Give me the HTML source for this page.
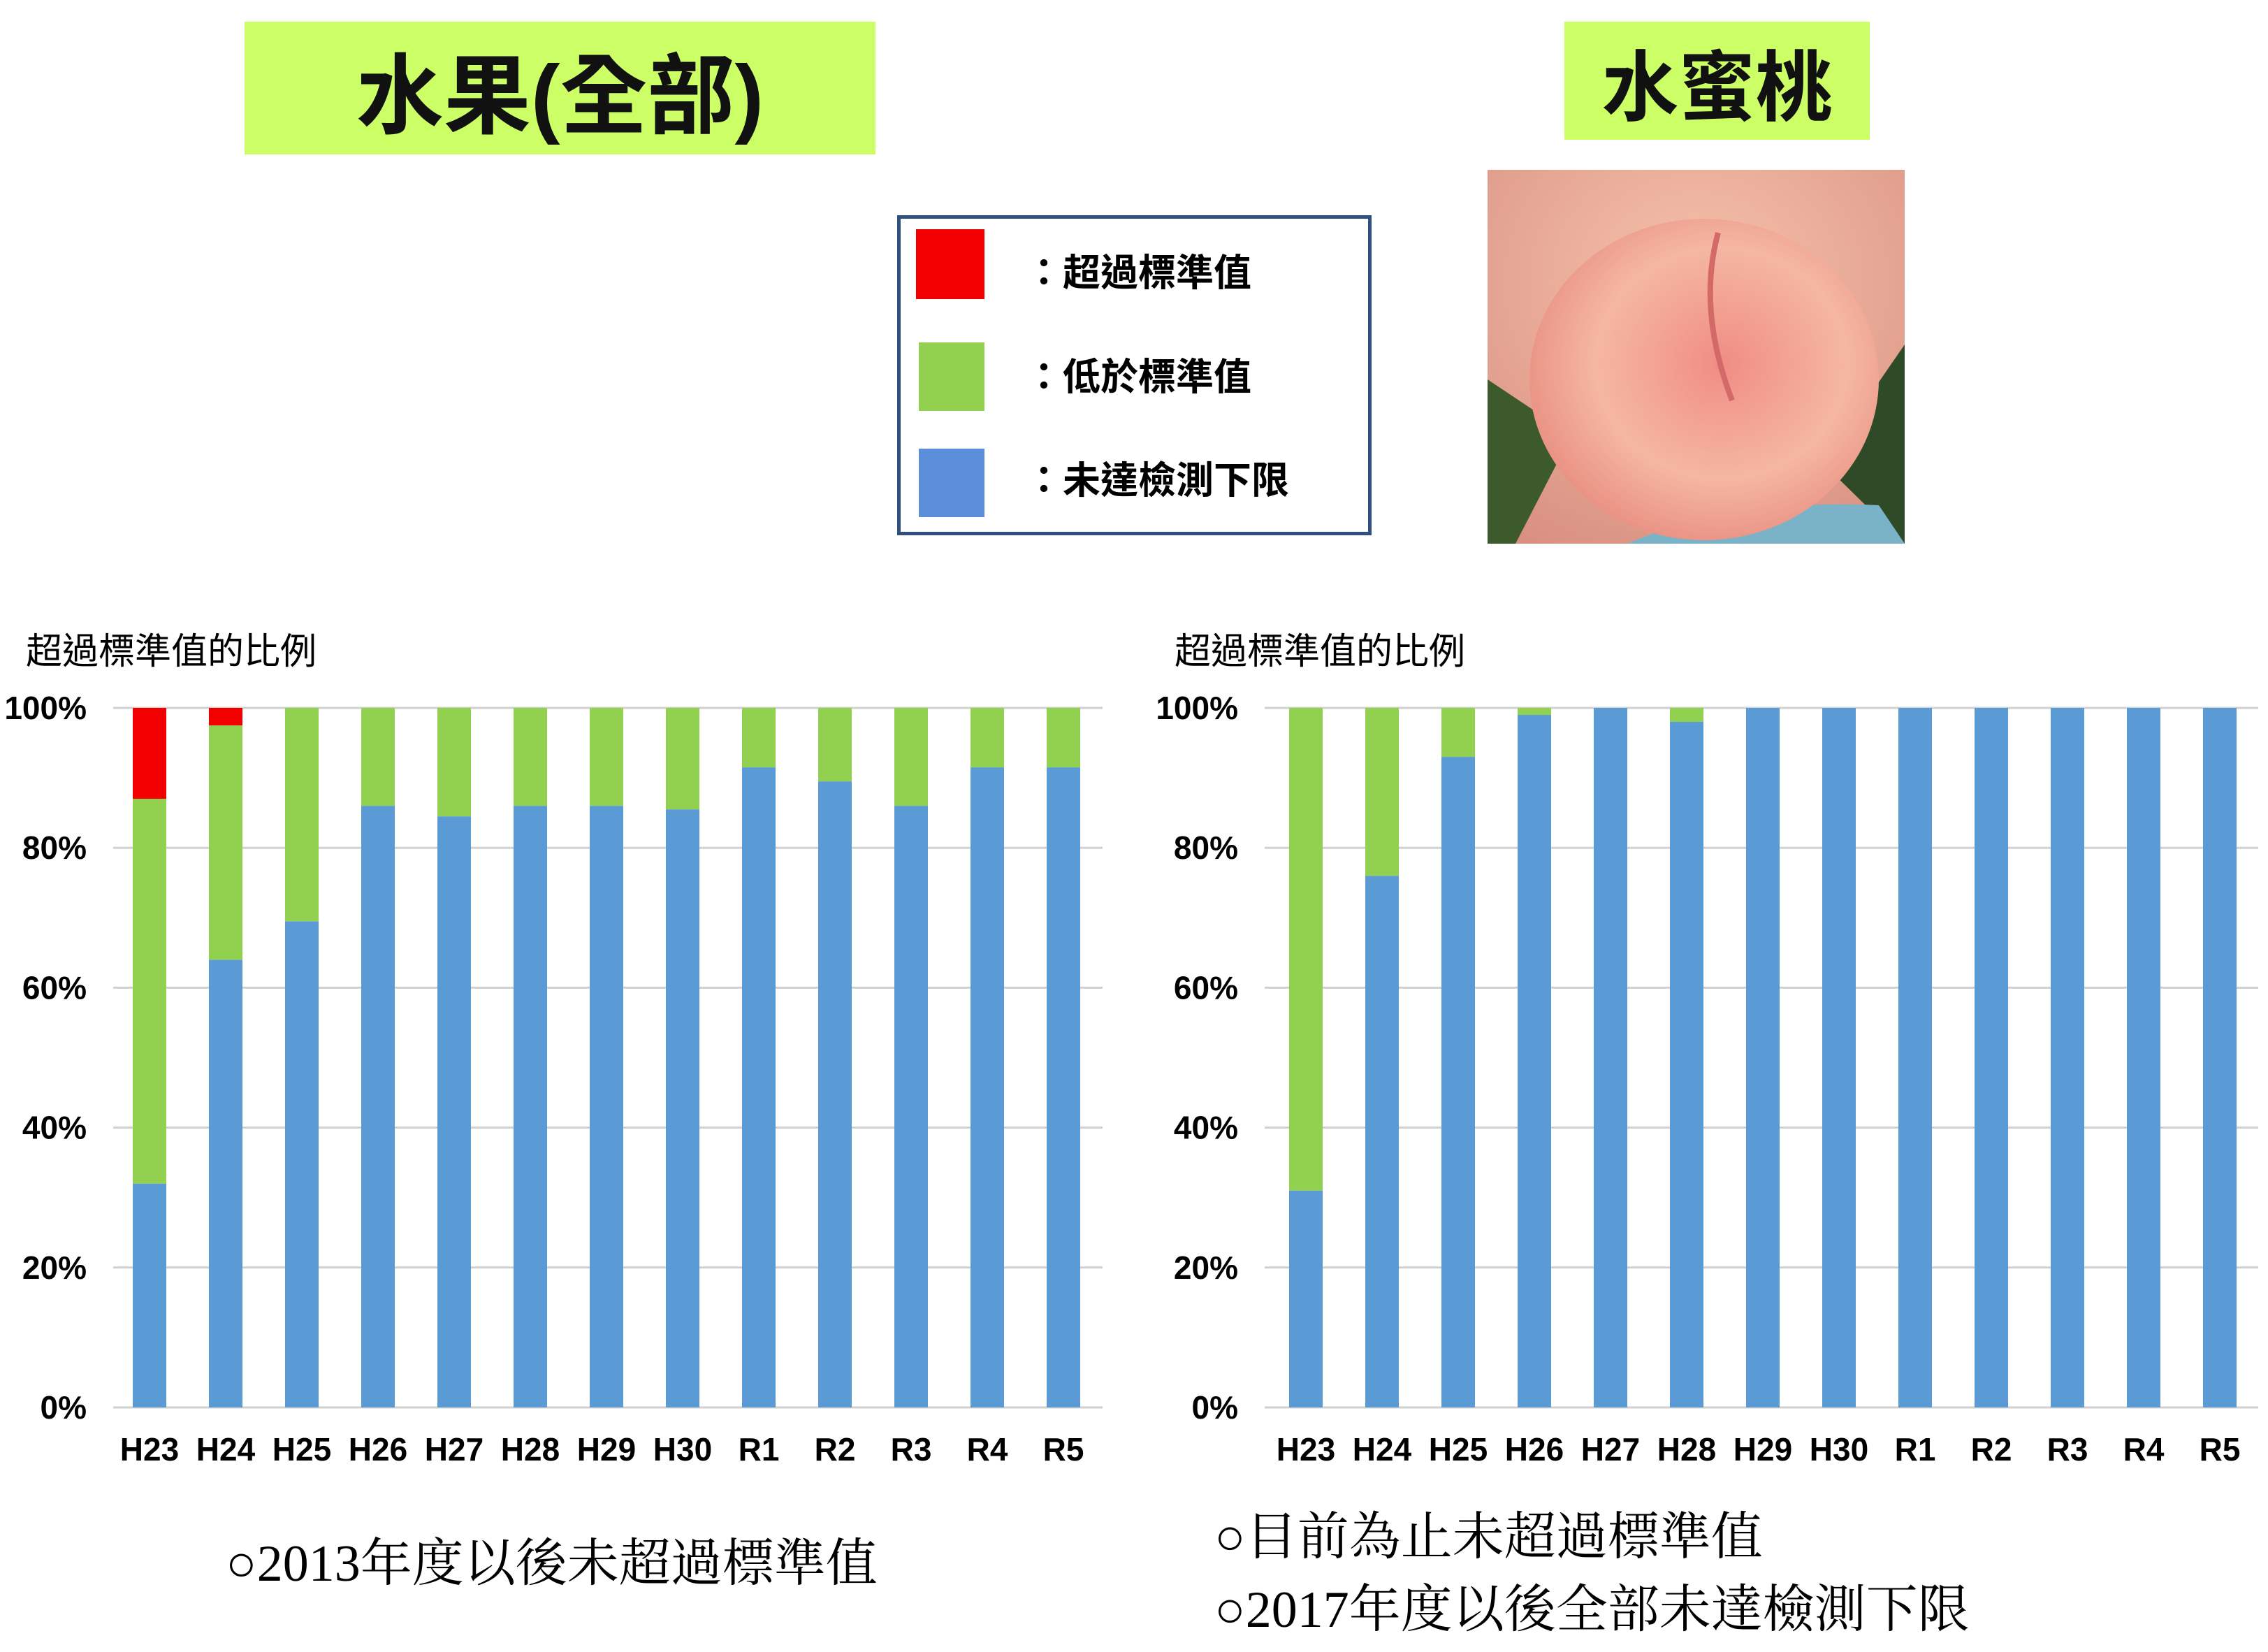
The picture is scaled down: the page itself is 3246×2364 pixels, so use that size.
<!DOCTYPE html>
<html><head><meta charset="utf-8"><style>
body{margin:0;width:3246px;height:2364px;background:#fff;overflow:hidden;position:relative;font-family:"Liberation Sans","Noto Sans CJK TC",sans-serif}
.abs{position:absolute}
</style></head><body>
<div class="abs" style="left:350px;top:31px;width:903px;height:190px;background:#ccff66;display:flex;align-items:center;justify-content:center;font-size:125px;font-weight:bold;color:#111">水果(全部)</div>
<div class="abs" style="left:2239px;top:31px;width:437px;height:169px;background:#ccff66;display:flex;align-items:center;justify-content:center;font-size:110px;font-weight:bold;color:#111">水蜜桃</div>
<div class="abs" style="left:1284px;top:308px;width:679px;height:458px;border:5px solid #2f4f7f;box-sizing:border-box">
 <div class="abs" style="left:22px;top:15px;width:98px;height:100px;background:#f20000"></div>
 <div class="abs" style="left:26px;top:177px;width:94px;height:98px;background:#92d050"></div>
 <div class="abs" style="left:26px;top:329px;width:94px;height:98px;background:#5b8fd9"></div>
 <div class="abs" style="left:178px;top:33px;font-size:54px;font-weight:bold">：超過標準值</div>
 <div class="abs" style="left:178px;top:182px;font-size:54px;font-weight:bold">：低於標準值</div>
 <div class="abs" style="left:178px;top:330px;font-size:54px;font-weight:bold">：未達檢測下限</div>
</div>
<svg class="abs" style="left:2129px;top:243px" width="597" height="535">
 <defs>
  <radialGradient id="pg" cx="0.55" cy="0.45" r="0.6"><stop offset="0" stop-color="#f08c84"/><stop offset="0.6" stop-color="#f5b7a2"/><stop offset="1" stop-color="#e88d80"/></radialGradient>
  <radialGradient id="bg" cx="0.5" cy="0.3" r="0.8"><stop offset="0" stop-color="#f6c3ad"/><stop offset="1" stop-color="#d99080"/></radialGradient>
 </defs>
 <rect width="597" height="535" fill="url(#bg)"/>
 <path d="M0 300 L120 380 L40 535 L0 535Z" fill="#3c5a2c"/>
 <path d="M597 250 L480 420 L597 535Z" fill="#2f4a26"/>
 <path d="M200 535 Q350 470 560 480 L597 535Z" fill="#7ab3c8"/>
 <ellipse cx="310" cy="300" rx="250" ry="230" fill="url(#pg)"/>
 <path d="M330 90 Q300 200 350 330" stroke="#d46a68" stroke-width="8" fill="none"/>
</svg>
<div class="abs" style="left:37px;top:890px;font-size:52px">超過標準值的比例</div>
<div class="abs" style="left:1681px;top:890px;font-size:52px">超過標準值的比例</div>
<svg class="abs" id="chart" style="left:0;top:0" width="3246" height="2364"></svg>
<div class="abs" style="left:323px;top:2178px;font-size:74px;font-family:'Liberation Serif','Noto Serif CJK SC',serif">○2013年度以後未超過標準值</div>
<div class="abs" style="left:1738px;top:2140px;font-size:74px;font-family:'Liberation Serif','Noto Serif CJK SC',serif">○目前為止未超過標準值</div>
<div class="abs" style="left:1738px;top:2244px;font-size:74px;font-family:'Liberation Serif','Noto Serif CJK SC',serif">○2017年度以後全部未達檢測下限</div>
<script>
const categories=["H23","H24","H25","H26","H27","H28","H29","H30","R1","R2","R3","R4","R5"];
const yTicks=[0,20,40,60,80,100];
const fruitND=[32,64,69.5,86,84.5,86,86,85.5,91.5,89.5,86,91.5,91.5];
const fruitBelow=[55,33.5,30.5,14,15.5,14,14,14.5,8.5,10.5,14,8.5,8.5];
const fruitExceed=[13,2.5,0,0,0,0,0,0,0,0,0,0,0];
const peachND=[31,76,93,99,100,98,100,100,100,100,100,100,100];
const peachBelow=[69,24,7,1,0,2,0,0,0,0,0,0,0];
const peachExceed=[0,0,0,0,0,0,0,0,0,0,0,0,0];
const svg=document.getElementById('chart');const NS='http://www.w3.org/2000/svg';
function mk(t,a){const e=document.createElementNS(NS,t);for(const k in a)e.setAttribute(k,a[k]);svg.appendChild(e);return e;}
function draw(prefix,x0,x1,c0,nd,bl,ex){
 const top=1013,bot=2014;const y=v=>bot-(bot-top)*v/100;const xc=i=>c0+i*109;
 yTicks.forEach(t=>{const l=mk('line',{x1:x0,x2:x1,y1:y(t),y2:y(t),stroke:'#d0d0d0','stroke-width':3});
  
  
  const tx=mk('text',{x:x0-38,y:y(t)+16,'text-anchor':'end','font-size':46,'font-weight':'bold','font-family':'Liberation Sans Narrow, Liberation Sans, sans-serif'});tx.textContent=t+'%';
  
  });
 categories.forEach((c,i)=>{const w=48,x=xc(i)-w/2;let base=0;
  [[nd[i],'#5b9bd5','nd'],[bl[i],'#92d050','below'],[ex[i],'#f20000','exceed']].forEach(([v,col,n])=>{if(v<=0)return;
   const r=mk('rect',{x:x,y:y(base+v),width:w,height:y(base)-y(base+v),fill:col});
   
   base+=v;});
  const tx=mk('text',{x:xc(i),y:2090,'text-anchor':'middle','font-size':46,'font-weight':'bold','font-family':'Liberation Sans Narrow, Liberation Sans, sans-serif'});tx.textContent=c;
  
  });
}
draw('fruit',162,1578,214,fruitND,fruitBelow,fruitExceed);
draw('peach',1810,3232,1869,peachND,peachBelow,peachExceed);
</script>
</body></html>
